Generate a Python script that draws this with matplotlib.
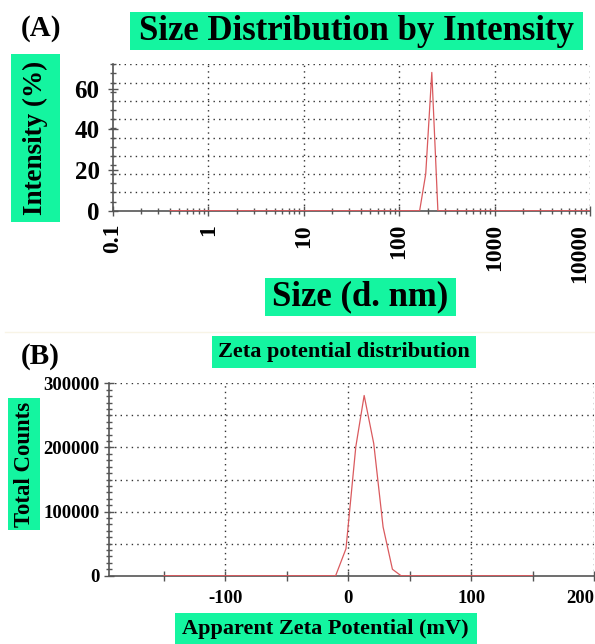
"""Recreate DLS size distribution and zeta potential panels."""

import matplotlib

matplotlib.use("Agg")
import matplotlib.pyplot as plt
import numpy as np
from matplotlib.patches import Rectangle
from matplotlib.ticker import FixedLocator, FuncFormatter, LogLocator, MultipleLocator, NullFormatter

# ---- panel A: size distribution by intensity ----
size_nm = [0.4, 10.0, 100.0, 141.8, 164.2, 190.1, 220.2, 255.0, 295.3, 1000.0, 10000.0]
intensity_pct = [0.0, 0.0, 0.0, 0.0, 0.0, 18.0, 68.0, 0.0, 0.0, 0.0, 0.0]
size_ticks = [0.1, 1, 10, 100, 1000, 10000]

# ---- panel B: zeta potential distribution ----
zeta_mv = [-150.0, -10.2, -1.8, 6.2, 13.0, 20.8, 28.4, 36.0, 43.0, 150.0]
total_counts = [0, 0, 42000, 201000, 281000, 206000, 76000, 10000, 0, 0]

GREEN = "#14F5A0"
FONT = "Liberation Serif"
LINE = "#DA5A5E"
AXC = "#555555"
GRID = dict(color="#333333", linestyle=(0, (1, 3)), linewidth=1.0)
W, H = 595, 644


def boxed(fig, x0, x1, y0, y1, s, size, rotation=0, box=True):
    # box given in pixel coords from the top-left corner
    if box:
        fig.patches.append(Rectangle((x0 / W, 1 - y1 / H), (x1 - x0) / W, (y1 - y0) / H,
                                     transform=fig.transFigure, fc=GREEN, ec="none", zorder=0))
    fig.text((x0 + x1) / 2 / W, 1 - (y0 + y1) / 2 / H, s, ha="center", va="center",
             fontsize=size, fontweight="bold", family=FONT, rotation=rotation, color="black")


def style_axes(ax):
    for side in ("top", "right"):
        ax.spines[side].set_visible(False)
    for side in ("left", "bottom"):
        ax.spines[side].set_color(AXC)
        ax.spines[side].set_linewidth(1.2)
    ax.tick_params(which="both", direction="inout", colors=AXC, width=1.0)
    ax.tick_params(which="major", length=7)
    ax.tick_params(which="minor", length=5)


def bold_labels(ax, size):
    for t in ax.get_xticklabels() + ax.get_yticklabels():
        t.set_fontfamily(FONT)
        t.set_fontweight("bold")
        t.set_fontsize(size)
        t.set_color("black")


fig = plt.figure(figsize=(W / 100, H / 100), dpi=100)

# faint separator between the two panels
fig.add_artist(plt.Line2D([5 / W, 1], [1 - 332 / H] * 2, color="#F8F4E6", lw=1))

# panel A
ax1 = fig.add_axes([112.7 / W, 1 - 210.7 / H, 477.3 / W, 146.4 / H])
ax1.plot(size_nm, intensity_pct, color=LINE, linewidth=0.9, zorder=3)
ax1.set_xscale("log")
ax1.set_xlim(0.1, 10000)
ax1.set_ylim(0, 72)
for yv in np.arange(9, 73, 9):
    ax1.axhline(yv, **GRID, zorder=1)
for xv in size_ticks[1:]:
    ax1.axvline(xv, **GRID, zorder=1)
style_axes(ax1)
ax1.xaxis.set_major_locator(FixedLocator(size_ticks))
ax1.xaxis.set_major_formatter(FuncFormatter(lambda v, p: f"{v:g}"))
ax1.xaxis.set_minor_locator(LogLocator(base=10, subs=np.arange(2, 10)))
ax1.xaxis.set_minor_formatter(NullFormatter())
ax1.yaxis.set_major_locator(FixedLocator([0, 20, 40, 60]))
ax1.yaxis.set_minor_locator(MultipleLocator(4.5))
ax1.tick_params(axis="x", which="major", labelrotation=90, pad=6)
ax1.tick_params(axis="y", which="major", pad=6)
bold_labels(ax1, 17)
for t in ax1.get_yticklabels():
    t.set_fontsize(18)
ax1.get_xticklabels()[-1].set_horizontalalignment("right")

# panel B
ax2 = fig.add_axes([109 / W, 1 - 575.7 / H, 485 / W, 192.4 / H])
ax2.plot(zeta_mv, total_counts, color=LINE, linewidth=0.9, zorder=3)
ax2.set_xlim(-194.6, 200)
ax2.set_ylim(0, 300000)
for yv in np.arange(50000, 300001, 50000):
    ax2.axhline(yv, **GRID, zorder=1)
for xv in (-100, 0, 100, 200):
    ax2.axvline(xv, **GRID, zorder=1)
style_axes(ax2)
ax2.xaxis.set_major_locator(MultipleLocator(50))
ax2.xaxis.set_major_formatter(FuncFormatter(lambda v, p: f"{v:g}" if round(v) % 100 == 0 else ""))
ax2.yaxis.set_major_locator(MultipleLocator(100000))
ax2.yaxis.set_major_formatter(FuncFormatter(lambda v, p: f"{v:.0f}"))
ax2.yaxis.set_minor_locator(MultipleLocator(10000))
ax2.tick_params(axis="x", which="major", pad=7)
bold_labels(ax2, 13.5)
fig.canvas.draw()
for t in ax2.get_xticklabels():
    if t.get_text() == "200":
        t.set_horizontalalignment("right")

# titles, axis labels and panel letters
boxed(fig, 18, 64, 14, 42, "(A)", 21, box=False)
boxed(fig, 130, 583, 12, 50, "Size Distribution by Intensity", 25)
boxed(fig, 11, 60, 54, 222, "Intensity (%)", 19.5, rotation=90)
boxed(fig, 264.5, 456, 278, 316, "Size (d. nm)", 25)
boxed(fig, 18, 63, 342, 370, "(B)", 21, box=False)
boxed(fig, 212, 475.5, 336, 368, "Zeta potential distribution", 16)
boxed(fig, 8.3, 40, 398, 530, "Total Counts", 16.4, rotation=90)
boxed(fig, 174.6, 477, 613, 645, "Apparent Zeta Potential (mV)", 16)

fig.savefig("out.png", dpi=100)
